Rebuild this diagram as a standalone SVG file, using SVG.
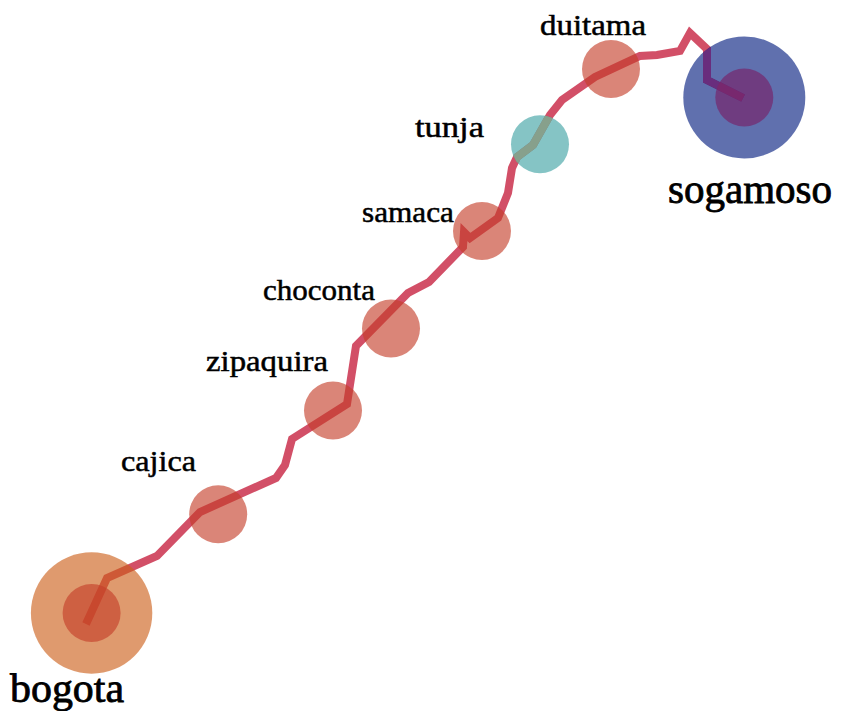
<svg xmlns="http://www.w3.org/2000/svg" width="842" height="711" viewBox="0 0 842 711">
<style>
.route{fill:none;stroke:#c82846;stroke-opacity:.82;stroke-width:8;stroke-linejoin:miter}
.over{fill:none;stroke-width:8;stroke-linejoin:miter}
.town{fill:#c53e29;fill-opacity:.63}
.teal{fill:#3ea2a3;fill-opacity:.63}
.orange{fill:#cc5f19;fill-opacity:.63}
.blue{fill:#031c7f;fill-opacity:.63}
.inner-blue{fill:#791e65;fill-opacity:.63}
text{font-family:"Liberation Serif","Times New Roman",serif;font-size:30px;fill:#000;stroke:#000;stroke-width:.5px}
.big{font-size:40.5px;stroke-width:.8px}
</style>
<defs>
<polyline id="routeLine" points="86,624 107,578 157,556 200,512 276,478 285,465 292,439 347,404 356,346 408,293 429,282 463,247 464,232 470,238 498,218 508,193 512,168 517,157 533,145 550,115 562,100 595,77 640,56 657,55 680,51 690,33 707,49 707,80 743,98"/>
<clipPath id="clipTeal"><circle cx="540" cy="144.3" r="29"/></clipPath>
<clipPath id="clipBlue"><circle cx="744.3" cy="97.5" r="61"/></clipPath>
<clipPath id="clipInner"><circle cx="744.3" cy="97.5" r="29"/></clipPath>
</defs>
<rect width="842" height="711" fill="#fff"/>
<g id="connectors">
<use href="#routeLine" class="route"/>
</g>
<g id="bogota"><circle class="orange" cx="91.6" cy="613" r="60.7"/><circle class="town" cx="91.6" cy="613" r="29"/><text class="big" x="10" y="702" textLength="114" lengthAdjust="spacingAndGlyphs">bogota</text></g>
<g id="cajica"><circle class="town" cx="218.2" cy="514.3" r="29"/><text x="121" y="471" textLength="75" lengthAdjust="spacingAndGlyphs">cajica</text></g>
<g id="zipaquira"><circle class="town" cx="333" cy="410.5" r="29"/><text x="206" y="371" textLength="122" lengthAdjust="spacingAndGlyphs">zipaquira</text></g>
<g id="choconta"><circle class="town" cx="391" cy="328.5" r="29"/><text x="263" y="300" textLength="112" lengthAdjust="spacingAndGlyphs">choconta</text></g>
<g id="samaca"><circle class="town" cx="482" cy="231" r="29"/><text x="362" y="222" textLength="92" lengthAdjust="spacingAndGlyphs">samaca</text></g>
<g id="tunja"><circle class="teal" cx="540" cy="144.3" r="29"/><use href="#routeLine" class="over" stroke="#87a08c" clip-path="url(#clipTeal)"/><text x="415" y="137" textLength="69" lengthAdjust="spacingAndGlyphs">tunja</text></g>
<g id="duitama"><circle class="town" cx="611" cy="69" r="29"/><text x="540" y="35" textLength="106" lengthAdjust="spacingAndGlyphs">duitama</text></g>
<g id="sogamoso"><circle class="blue" cx="744.3" cy="97.5" r="61"/><circle class="inner-blue" cx="744.3" cy="97.5" r="29"/><use href="#routeLine" class="over" stroke="#692d7d" clip-path="url(#clipBlue)"/><use href="#routeLine" class="over" stroke="#78286e" clip-path="url(#clipInner)"/><text class="big" x="668" y="203" textLength="164" lengthAdjust="spacingAndGlyphs">sogamoso</text></g>
</svg>
